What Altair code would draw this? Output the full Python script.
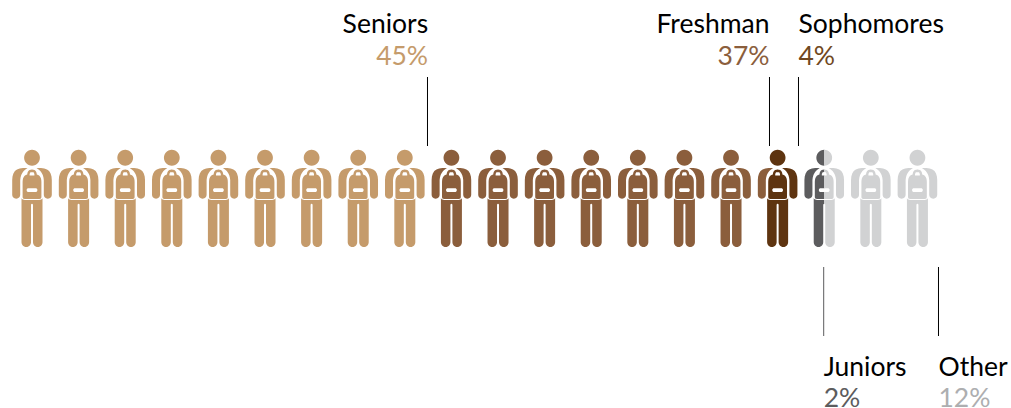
import math
import altair as alt
import pandas as pd

# Student body by class, in percent, with the order used along the row of figures
classes = ["Seniors", "Freshman", "Sophomores", "Juniors", "Other"]
shares = [45, 37, 4, 2, 12]
figure_colors = ["#c59b6b", "#8b5e3c", "#5e3410", "#5c5c5e", "#d1d2d3"]
label_colors = ["#c59b6b", "#8b5e3c", "#704822", "#5c5c5e", "#adaeb0"]

# How each of the 20 figures (5% each) is coloured
whole_senior_figures = 9
whole_freshman_figures = 7
figure_width_pct = 5

# Callout lines: where each class ends along the row and where its line runs
callout_x = [44.934, 81.628, 84.74, 87.444, 99.761]
label_x = [45.0, 81.628, 84.74, 87.444, 99.761]
callout_y1 = [-118, -118, -118, 72, 72]
callout_y2 = [-49, -49, -49, 141, 141]
name_y = [-162, -162, -162, 181, 181]
pct_y = [-130, -130, -130, 212, 212]
label_side = ["right", "right", "left", "left", "left"]


def quad(p0, c, p1, n=6):
    return [((1 - t) ** 2 * p0[0] + 2 * (1 - t) * t * c[0] + t ** 2 * p1[0],
             (1 - t) ** 2 * p0[1] + 2 * (1 - t) * t * c[1] + t ** 2 * p1[1])
            for t in (i / n for i in range(1, n + 1))]


def arc(cx, cy, r, a0, a1, n=14):
    return [(cx + r * math.cos(math.radians(a0 + (a1 - a0) * i / n)),
             cy + r * math.sin(math.radians(a0 + (a1 - a0) * i / n)))
            for i in range(n + 1)]


# Left half of the figure, one outline per body part, in pixels around the centre
head = arc(0.1, -37.3, 8, 90, 270)
arm = ([(-19.8, -15)] + quad((-19.8, -15), (-19.8, -26.8), (-9, -27)) +
       [(-4.5, -27)] + quad((-4.5, -27), (-11.3, -23), (-11.8, -15)) +
       [(-11.8, -4)] + arc(-15.8, -0.3, 4, 0, 180))
pack = ([(0.1, -25.5)] + quad((0.1, -25.5), (-4.5, -25.5), (-4.8, -20.5)) +
        quad((-4.8, -20.5), (-9.4, -19.5), (-9.4, -13)) +
        [(-9.4, 2)] + quad((-9.4, 2), (-9.4, 3.9), (-7.4, 3.9)) +
        [(0.1, 3.9), (0.1, -3), (-4.3, -3), (-5.3, -4), (-5.3, -5.7), (-4.3, -6.7),
         (0.1, -6.7), (0.1, -19.4), (-2.4, -19.4), (-2.4, -21), (-1.6, -22.7), (0.1, -23)])
leg = ([(-10.5, 47.3), (-10.5, 3)] + quad((-10.5, 3), (-9.7, 5.1), (-6, 5.1)) +
       [(0.1, 5.1), (0.1, 8.5), (-1, 9.5), (-1, 47.3)] +
       arc(-5.75, 47.3, 4.75, 0, 180))
left_parts = {"head": head, "arm": arm, "pack": pack, "leg": leg}


def outline(points, mirror=False):
    scale = 1 / 50
    pts = [(-x, y) for x, y in reversed(points)] if mirror else points
    return "M" + "L".join(f"{x * scale:.4f},{y * scale:.4f}" for x, y in pts) + "Z"


def shape(names, mirror=False):
    return "".join(outline(left_parts[n], mirror) for n in names)


all_parts = ["head", "arm", "pack", "leg"]
pieces = {
    "whole": shape(all_parts) + shape(all_parts, True),
    "left half": shape(all_parts),
    "right half": shape(all_parts, True),
    "left arm": shape(["arm"]),
    "all but left arm": shape(["head", "pack", "leg"]) + shape(all_parts, True),
}

rows = []
for i in range(whole_senior_figures):
    rows.append((i, "whole", "Seniors"))
for i in range(whole_senior_figures, whole_senior_figures + whole_freshman_figures):
    rows.append((i, "whole", "Freshman"))
rows += [
    (16, "left arm", "Freshman"),
    (16, "all but left arm", "Sophomores"),
    (17, "left half", "Juniors"),
    (17, "right half", "Other"),
    (18, "whole", "Other"),
    (19, "whole", "Other"),
]
figures = pd.DataFrame(
    [{"pos": (i + 0.5) * figure_width_pct, "level": 0, "piece": p, "cls": c} for i, p, c in rows]
)

labels = pd.DataFrame({
    "cls": classes,
    "share": [f"{s}%" for s in shares],
    "x": callout_x,
    "label_x": label_x,
    "y1": callout_y1,
    "y2": callout_y2,
    "name_y": name_y,
    "pct_y": pct_y,
    "side": label_side,
    "label_color": label_colors,
    "rule_color": ["#000000", "#000000", "#000000", "#5c5c5e", "#000000"],
})

x_scale = alt.Scale(domain=[-0.934, 107.54], range=[0, 1011], nice=False, zero=False)
y_scale = alt.Scale(domain=[-195, 213], range=[0, 408], nice=False, zero=False)

people = alt.Chart(figures).mark_point(filled=True, opacity=1, strokeWidth=0).encode(
    x=alt.X("pos:Q", scale=x_scale, axis=None),
    y=alt.Y("level:Q", scale=y_scale, axis=None),
    shape=alt.Shape("piece:N", legend=None,
                    scale=alt.Scale(domain=list(pieces), range=list(pieces.values()))),
    color=alt.Color("cls:N", legend=None, scale=alt.Scale(domain=classes, range=figure_colors)),
    size=alt.value(10000),
)

rules = alt.Chart(labels).mark_rule(strokeWidth=1).encode(
    x=alt.X("x:Q", scale=x_scale, axis=None),
    y=alt.Y("y1:Q", scale=y_scale, axis=None),
    y2="y2:Q",
    color=alt.Color("rule_color:N", scale=None),
)


def text_layer(side):
    subset = labels[labels["side"] == side]
    style = dict(font="Lato", fontSize=26.5, align=side, baseline="alphabetic")
    text_x = alt.X("label_x:Q", scale=x_scale, axis=None)
    names = alt.Chart(subset).mark_text(color="#000000", **style).encode(
        x=text_x, y=alt.Y("name_y:Q", scale=y_scale, axis=None), text="cls:N")
    values = alt.Chart(subset).mark_text(**style).encode(
        x=text_x, y=alt.Y("pct_y:Q", scale=y_scale, axis=None), text="share:N",
        color=alt.Color("label_color:N", scale=None))
    return names + values


chart = alt.layer(people, rules, text_layer("right"), text_layer("left")).properties(
    width=1011, height=408, padding=0, autosize=alt.AutoSizeParams(type="none"),
    background="white",
).configure_view(stroke=None)

chart.save("out.html", embed_options={"renderer": "svg", "actions": False})
